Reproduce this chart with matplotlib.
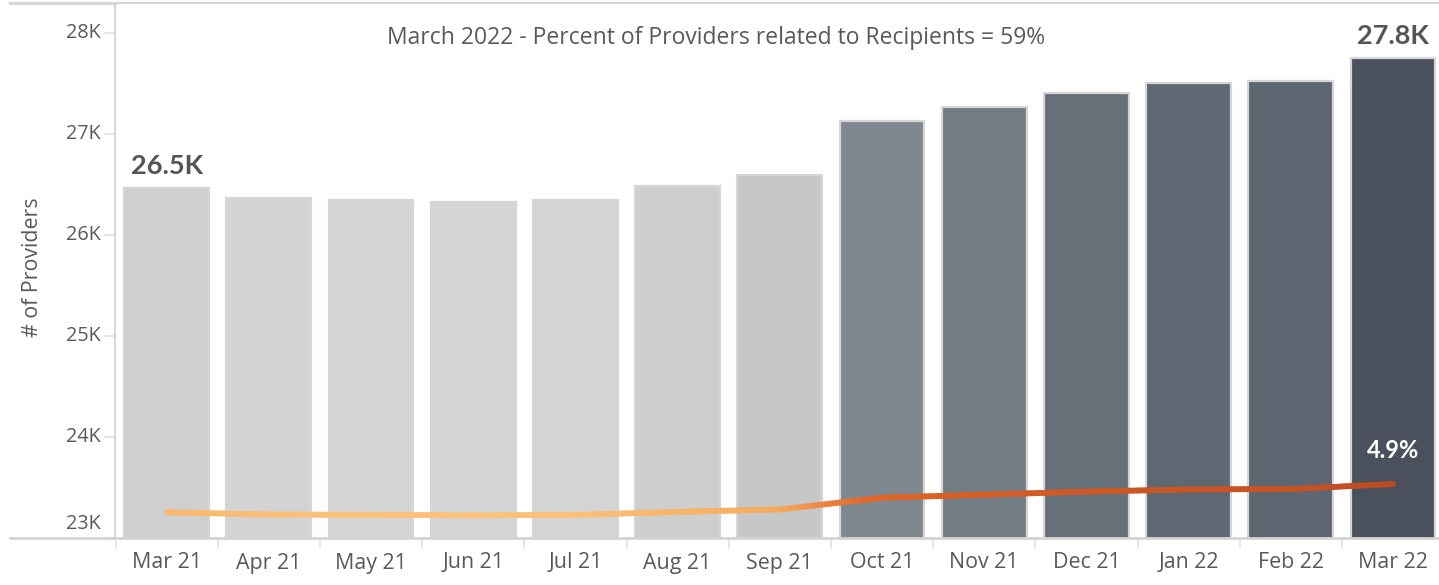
import numpy as np
import matplotlib
matplotlib.use("Agg")
import matplotlib.pyplot as plt
from matplotlib.colors import LinearSegmentedColormap, Normalize
from matplotlib.collections import LineCollection
from matplotlib.lines import Line2D

# Monthly provider counts
months = ["Mar 21", "Apr 21", "May 21", "Jun 21", "Jul 21", "Aug 21", "Sep 21",
          "Oct 21", "Nov 21", "Dec 21", "Jan 22", "Feb 22", "Mar 22"]
providers = [26465, 26366, 26347, 26327, 26347, 26485, 26594,
             27129, 27267, 27406, 27505, 27525, 27752]
yticks = [23000, 24000, 25000, 26000, 27000, 28000]
ytick_labels = ["23K", "24K", "25K", "26K", "27K", "28K"]
title_text = "March 2022 - Percent of Providers related to Recipients = 59%"

# Percent change relative to the first month
pct_change = [(v / providers[0] - 1) * 100 for v in providers]

plt.rcParams["font.family"] = ["Open Sans", "DejaVu Sans"]
BOLD_FONT = ["Lato", "DejaVu Sans"]
TXT = "#595959"

W, H = 1439, 585
fig = plt.figure(figsize=(W / 100, H / 100), dpi=100)
ax_left, ax_right = 115.5 / W, 1.0
ax_bottom, ax_top = (H - 538) / H, (H - 3) / H
ax = fig.add_axes([ax_left, ax_bottom, ax_right - ax_left, ax_top - ax_bottom])

x = np.arange(len(months))

bar_cmap = LinearSegmentedColormap.from_list(
    "greys", [(0.0, "#D5D5D5"), (0.18, "#C9CACA"), (0.2, "#BDC0C1"),
              (0.56, "#80898E"), (0.75, "#66717A"), (0.85, "#5C6670"),
              (1.0, "#4A505C")])
bnorm = Normalize(min(providers), max(providers))
bar_colors = [bar_cmap(bnorm(v)) for v in providers]
ax.bar(x, providers, width=0.83, color=bar_colors, edgecolor="#D6D6D6",
       linewidth=1.6, zorder=2)

ax.set_xlim(-0.5, len(months) - 0.55)
ymin = 23000
ytop = 28000 + 30 / 101 * 1000
ax.set_ylim(ymin, ytop)

ax.set_yticks(yticks)
ax.set_yticklabels([])
ax.tick_params(axis="y", length=8, color="#E6E6E6", width=1.5, pad=4)
ax.set_xticks([])
for t, lab in zip(yticks, ytick_labels):
    off = 14 if t == ymin else 0
    ax.annotate(lab, xy=(0, t), xycoords=("axes fraction", "data"),
                xytext=(-15, off), textcoords="offset pixels",
                ha="right", va="center", fontsize=14.2, color=TXT)

for i, m in enumerate(months):
    ax.annotate(m, xy=(i, 0), xycoords=("data", "axes fraction"),
                xytext=(0, -25), textcoords="offset pixels",
                ha="center", va="center", fontsize=15.4, color=TXT)

# Category dividers under the axis
for b in np.arange(-0.5, len(months) - 0.5, 1.0):
    ax.add_line(Line2D([b, b], [0, -10 / 535], transform=ax.get_xaxis_transform(),
                       color="#E3E3E3", lw=1.2, clip_on=False))

ax.spines["right"].set_visible(False)
ax.spines["left"].set_color("#D0D0D0")
ax.spines["left"].set_linewidth(1.2)
ax.spines["bottom"].set_color("#D4D4D4")
ax.spines["bottom"].set_linewidth(2)
ax.spines["top"].set_color("#D6D6D6")
ax.spines["top"].set_linewidth(1.5)

# Border pieces extending to the left of the plot area
fig.add_artist(Line2D([10 / W, ax_left], [ax_top, ax_top], color="#D6D6D6", lw=2.2))
fig.add_artist(Line2D([10 / W, ax_left], [ax_bottom, ax_bottom], color="#D4D4D4", lw=2))

fig.text(33 / W, 1 - 267 / H, "# of Providers", rotation=90, ha="center",
         va="center", fontsize=15.4, color=TXT)

fig.text(716 / W, 1 - 38 / H, title_text, ha="center",
         va="center", fontsize=16.5, color=TXT)

# Value labels at the ends
ax.annotate(f"{providers[0] / 1000:.1f}K", xy=(0, providers[0]),
            xytext=(0, 22), textcoords="offset pixels", ha="center",
            va="center", fontsize=19.5, fontweight="bold", color="#555555",
            family=BOLD_FONT)
ax.annotate(f"{providers[-1] / 1000:.1f}K", xy=(x[-1], providers[-1]),
            xytext=(0, 22), textcoords="offset pixels", ha="center",
            va="center", fontsize=19.5, fontweight="bold", color="#555555",
            family=BOLD_FONT)

# Percent change line on a hidden secondary axis
ax2 = ax.twinx()
px_per_pct = (512.3 - 484) / pct_change[-1]
ax2.set_ylim(-(538 - 512.3) / px_per_pct, (512.3 - 3) / px_per_pct)
ax2.set_axis_off()

line_cmap = LinearSegmentedColormap.from_list(
    "oranges", [(0.0, "#FCC27C"), (0.15, "#F7B062"), (0.5, "#E2692A"),
                (1.0, "#BB4A22")])
lnorm = Normalize(min(pct_change), max(pct_change))
segs, cols = [], []
steps = 24
for i in range(len(x) - 1):
    for k in range(steps):
        a, b = k / steps, (k + 1) / steps
        xa = x[i] + a; xb = x[i] + b
        ya = pct_change[i] + a * (pct_change[i + 1] - pct_change[i])
        yb = pct_change[i] + b * (pct_change[i + 1] - pct_change[i])
        segs.append([(xa, ya), (xb, yb)])
        cols.append(line_cmap(lnorm((ya + yb) / 2)))
lc = LineCollection(segs, colors=cols, linewidths=4.2, capstyle="round",
                    joinstyle="round", zorder=3)
ax2.add_collection(lc)
ax2.set_xlim(ax.get_xlim())

ax2.annotate(f"{pct_change[-1]:.1f}%", xy=(x[-1], pct_change[-1]),
             xytext=(0, 33), textcoords="offset pixels", ha="center",
             va="center", fontsize=17, fontweight="bold", color="white",
             family=BOLD_FONT)

fig.savefig("out.png", dpi=100, facecolor="white")
